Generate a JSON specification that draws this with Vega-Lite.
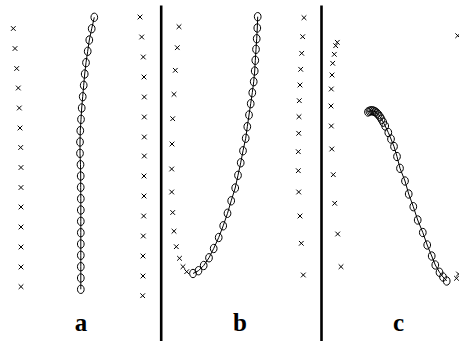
{
  "$schema": "https://vega.github.io/schema/vega-lite/v6.json",
  "width": 459,
  "height": 341,
  "padding": 0,
  "autosize": {"type": "none"},
  "background": "white",
  "config": {"view": {"stroke": null}},
  "datasets": {
    "crosses": [
      {"panel": "a", "side": "left", "x": 13.3, "y": 28.5},
      {"panel": "a", "side": "left", "x": 15, "y": 48.5},
      {"panel": "a", "side": "left", "x": 16.7, "y": 68.5},
      {"panel": "a", "side": "left", "x": 18.3, "y": 88},
      {"panel": "a", "side": "left", "x": 19.3, "y": 108},
      {"panel": "a", "side": "left", "x": 20, "y": 128},
      {"panel": "a", "side": "left", "x": 20.7, "y": 147.5},
      {"panel": "a", "side": "left", "x": 21, "y": 167.5},
      {"panel": "a", "side": "left", "x": 21, "y": 187.5},
      {"panel": "a", "side": "left", "x": 21, "y": 207},
      {"panel": "a", "side": "left", "x": 21, "y": 227},
      {"panel": "a", "side": "left", "x": 21, "y": 247},
      {"panel": "a", "side": "left", "x": 21, "y": 267},
      {"panel": "a", "side": "left", "x": 21, "y": 286.7},
      {"panel": "a", "side": "right", "x": 140, "y": 17},
      {"panel": "a", "side": "right", "x": 141.7, "y": 37},
      {"panel": "a", "side": "right", "x": 143.3, "y": 57},
      {"panel": "a", "side": "right", "x": 144, "y": 77},
      {"panel": "a", "side": "right", "x": 144.3, "y": 97},
      {"panel": "a", "side": "right", "x": 144.3, "y": 117},
      {"panel": "a", "side": "right", "x": 144.3, "y": 137},
      {"panel": "a", "side": "right", "x": 144.3, "y": 156},
      {"panel": "a", "side": "right", "x": 144, "y": 176},
      {"panel": "a", "side": "right", "x": 144, "y": 196},
      {"panel": "a", "side": "right", "x": 143.7, "y": 216},
      {"panel": "a", "side": "right", "x": 143.3, "y": 236},
      {"panel": "a", "side": "right", "x": 143, "y": 256},
      {"panel": "a", "side": "right", "x": 143, "y": 276},
      {"panel": "a", "side": "right", "x": 142.7, "y": 295.7},
      {"panel": "b", "side": "left", "x": 179, "y": 26.7},
      {"panel": "b", "side": "left", "x": 177.3, "y": 47.7},
      {"panel": "b", "side": "left", "x": 175.3, "y": 70.3},
      {"panel": "b", "side": "left", "x": 174, "y": 94.3},
      {"panel": "b", "side": "left", "x": 172.7, "y": 118.7},
      {"panel": "b", "side": "left", "x": 172, "y": 144},
      {"panel": "b", "side": "left", "x": 171.7, "y": 169},
      {"panel": "b", "side": "left", "x": 171.7, "y": 192},
      {"panel": "b", "side": "left", "x": 172.7, "y": 212.5},
      {"panel": "b", "side": "left", "x": 174, "y": 231.2},
      {"panel": "b", "side": "left", "x": 176.3, "y": 246.7},
      {"panel": "b", "side": "left", "x": 179.5, "y": 258.3},
      {"panel": "b", "side": "left", "x": 183, "y": 266.7},
      {"panel": "b", "side": "left", "x": 186.7, "y": 271.7},
      {"panel": "b", "side": "right", "x": 304, "y": 17.7},
      {"panel": "b", "side": "right", "x": 302.7, "y": 36.7},
      {"panel": "b", "side": "right", "x": 301.7, "y": 53.3},
      {"panel": "b", "side": "right", "x": 300.7, "y": 69.3},
      {"panel": "b", "side": "right", "x": 300, "y": 85},
      {"panel": "b", "side": "right", "x": 299.3, "y": 100.7},
      {"panel": "b", "side": "right", "x": 299, "y": 116.7},
      {"panel": "b", "side": "right", "x": 298.7, "y": 133.3},
      {"panel": "b", "side": "right", "x": 298.3, "y": 151.7},
      {"panel": "b", "side": "right", "x": 298.3, "y": 170.7},
      {"panel": "b", "side": "right", "x": 298.7, "y": 192},
      {"panel": "b", "side": "right", "x": 300, "y": 216},
      {"panel": "b", "side": "right", "x": 301.3, "y": 243.3},
      {"panel": "b", "side": "right", "x": 303.3, "y": 275},
      {"panel": "c", "side": "left", "x": 337.3, "y": 42.3},
      {"panel": "c", "side": "left", "x": 335.7, "y": 45.7},
      {"panel": "c", "side": "left", "x": 334.3, "y": 54.3},
      {"panel": "c", "side": "left", "x": 332.7, "y": 63.3},
      {"panel": "c", "side": "left", "x": 332, "y": 75},
      {"panel": "c", "side": "left", "x": 331.3, "y": 89},
      {"panel": "c", "side": "left", "x": 331, "y": 106},
      {"panel": "c", "side": "left", "x": 331.3, "y": 126},
      {"panel": "c", "side": "left", "x": 331.8, "y": 149},
      {"panel": "c", "side": "left", "x": 333.3, "y": 174.7},
      {"panel": "c", "side": "left", "x": 334.7, "y": 203.3},
      {"panel": "c", "side": "left", "x": 337.7, "y": 234},
      {"panel": "c", "side": "left", "x": 341, "y": 266.7},
      {"panel": "c", "side": "right", "x": 457.7, "y": 35.7},
      {"panel": "c", "side": "right", "x": 458.5, "y": 274},
      {"panel": "c", "side": "right", "x": 456.5, "y": 278.3}
    ],
    "curves": [
      {"panel": "a", "i": 0, "x": 94.3, "y": 17.3},
      {"panel": "a", "i": 1, "x": 91.7, "y": 28.7},
      {"panel": "a", "i": 2, "x": 89.3, "y": 40},
      {"panel": "a", "i": 3, "x": 87.7, "y": 51.3},
      {"panel": "a", "i": 4, "x": 86, "y": 62.7},
      {"panel": "a", "i": 5, "x": 84.7, "y": 74},
      {"panel": "a", "i": 6, "x": 83.7, "y": 85.3},
      {"panel": "a", "i": 7, "x": 82.7, "y": 96.7},
      {"panel": "a", "i": 8, "x": 81.7, "y": 108},
      {"panel": "a", "i": 9, "x": 81, "y": 119.3},
      {"panel": "a", "i": 10, "x": 80.3, "y": 130.7},
      {"panel": "a", "i": 11, "x": 80, "y": 142},
      {"panel": "a", "i": 12, "x": 80, "y": 153.3},
      {"panel": "a", "i": 13, "x": 80.5, "y": 164.7},
      {"panel": "a", "i": 14, "x": 80.7, "y": 176},
      {"panel": "a", "i": 15, "x": 80.7, "y": 187.3},
      {"panel": "a", "i": 16, "x": 80.8, "y": 198.7},
      {"panel": "a", "i": 17, "x": 80.8, "y": 210},
      {"panel": "a", "i": 18, "x": 80.8, "y": 221.3},
      {"panel": "a", "i": 19, "x": 80.8, "y": 232.7},
      {"panel": "a", "i": 20, "x": 80.8, "y": 244},
      {"panel": "a", "i": 21, "x": 80.8, "y": 255.3},
      {"panel": "a", "i": 22, "x": 80.8, "y": 266.7},
      {"panel": "a", "i": 23, "x": 80.8, "y": 278},
      {"panel": "a", "i": 24, "x": 80.8, "y": 289.3},
      {"panel": "b", "i": 0, "x": 257.7, "y": 16.7},
      {"panel": "b", "i": 1, "x": 257.3, "y": 28},
      {"panel": "b", "i": 2, "x": 256.7, "y": 38.7},
      {"panel": "b", "i": 3, "x": 256, "y": 49.3},
      {"panel": "b", "i": 4, "x": 255.3, "y": 60.3},
      {"panel": "b", "i": 5, "x": 254.7, "y": 71},
      {"panel": "b", "i": 6, "x": 253.7, "y": 81.7},
      {"panel": "b", "i": 7, "x": 252.3, "y": 92.7},
      {"panel": "b", "i": 8, "x": 250.7, "y": 103.7},
      {"panel": "b", "i": 9, "x": 249, "y": 115},
      {"panel": "b", "i": 10, "x": 247.3, "y": 126.7},
      {"panel": "b", "i": 11, "x": 245.7, "y": 138.3},
      {"panel": "b", "i": 12, "x": 243, "y": 150.8},
      {"panel": "b", "i": 13, "x": 240.7, "y": 162.8},
      {"panel": "b", "i": 14, "x": 238, "y": 175.3},
      {"panel": "b", "i": 15, "x": 235.2, "y": 188},
      {"panel": "b", "i": 16, "x": 231.2, "y": 200.8},
      {"panel": "b", "i": 17, "x": 227.5, "y": 213.3},
      {"panel": "b", "i": 18, "x": 223.2, "y": 225.8},
      {"panel": "b", "i": 19, "x": 218.7, "y": 237.5},
      {"panel": "b", "i": 20, "x": 213.7, "y": 248.5},
      {"panel": "b", "i": 21, "x": 209, "y": 257.8},
      {"panel": "b", "i": 22, "x": 203.7, "y": 265.5},
      {"panel": "b", "i": 23, "x": 198.5, "y": 270.7},
      {"panel": "b", "i": 24, "x": 193, "y": 273.5},
      {"panel": "c", "i": 0, "x": 368, "y": 112},
      {"panel": "c", "i": 1, "x": 369.5, "y": 111.2},
      {"panel": "c", "i": 2, "x": 371, "y": 110.8},
      {"panel": "c", "i": 3, "x": 372.5, "y": 110.8},
      {"panel": "c", "i": 4, "x": 374, "y": 111.2},
      {"panel": "c", "i": 5, "x": 375.5, "y": 112},
      {"panel": "c", "i": 6, "x": 377, "y": 113.2},
      {"panel": "c", "i": 7, "x": 378.5, "y": 114.8},
      {"panel": "c", "i": 8, "x": 380, "y": 116.8},
      {"panel": "c", "i": 9, "x": 381.5, "y": 119.2},
      {"panel": "c", "i": 10, "x": 383.2, "y": 122.2},
      {"panel": "c", "i": 11, "x": 385.2, "y": 126},
      {"panel": "c", "i": 12, "x": 388.3, "y": 132.5},
      {"panel": "c", "i": 13, "x": 391, "y": 139},
      {"panel": "c", "i": 14, "x": 394, "y": 146.5},
      {"panel": "c", "i": 15, "x": 397, "y": 156.5},
      {"panel": "c", "i": 16, "x": 400, "y": 168.3},
      {"panel": "c", "i": 17, "x": 405, "y": 181},
      {"panel": "c", "i": 18, "x": 408.7, "y": 194},
      {"panel": "c", "i": 19, "x": 413.3, "y": 206.7},
      {"panel": "c", "i": 20, "x": 417.7, "y": 220},
      {"panel": "c", "i": 21, "x": 422.8, "y": 232.5},
      {"panel": "c", "i": 22, "x": 427.2, "y": 245},
      {"panel": "c", "i": 23, "x": 431.7, "y": 256},
      {"panel": "c", "i": 24, "x": 435.3, "y": 265},
      {"panel": "c", "i": 25, "x": 439.5, "y": 272.3},
      {"panel": "c", "i": 26, "x": 443, "y": 277},
      {"panel": "c", "i": 27, "x": 446.7, "y": 281}
    ],
    "dividers": [
      {"x": 161.2, "top": 5.5, "bottom": 341},
      {"x": 321.5, "top": 5.5, "bottom": 341}
    ],
    "labels": [
      {"label": "a", "x": 81, "y": 330.5},
      {"label": "b", "x": 240, "y": 330.5},
      {"label": "c", "x": 398.5, "y": 330.5}
    ]
  },
  "encoding": {
    "x": {"field": "x", "type": "quantitative", "axis": null,
          "scale": {"domain": [0, 459], "nice": false, "zero": false}},
    "y": {"field": "y", "type": "quantitative", "axis": null,
          "scale": {"domain": [0, 341], "nice": false, "zero": false, "reverse": true}}
  },
  "layer": [
    {
      "data": {"name": "dividers"},
      "mark": {"type": "rule", "color": "black", "strokeWidth": 2.6},
      "encoding": {
        "y": {"field": "top", "type": "quantitative", "axis": null},
        "y2": {"field": "bottom"}
      }
    },
    {
      "data": {"name": "crosses"},
      "mark": {"type": "point", "shape": "M-1,-1L1,1M-1,1L1,-1", "filled": false,
               "stroke": "black", "strokeWidth": 1, "size": 22, "opacity": 1}
    },
    {
      "data": {"name": "curves"},
      "mark": {"type": "line", "color": "black", "strokeWidth": 1},
      "encoding": {
        "detail": {"field": "panel"},
        "order": {"field": "i", "type": "quantitative"}
      }
    },
    {
      "data": {"name": "curves"},
      "mark": {"type": "point", "shape": "M-0.8,0A0.8,1,0,1,0,0.8,0A0.8,1,0,1,0,-0.8,0Z",
               "filled": false, "stroke": "black", "strokeWidth": 1, "size": 70, "opacity": 1}
    },
    {
      "data": {"name": "labels"},
      "mark": {"type": "text", "font": "Liberation Serif", "fontWeight": "bold",
               "fontSize": 25, "align": "center", "baseline": "alphabetic", "color": "black"},
      "encoding": {"text": {"field": "label"}}
    }
  ]
}
